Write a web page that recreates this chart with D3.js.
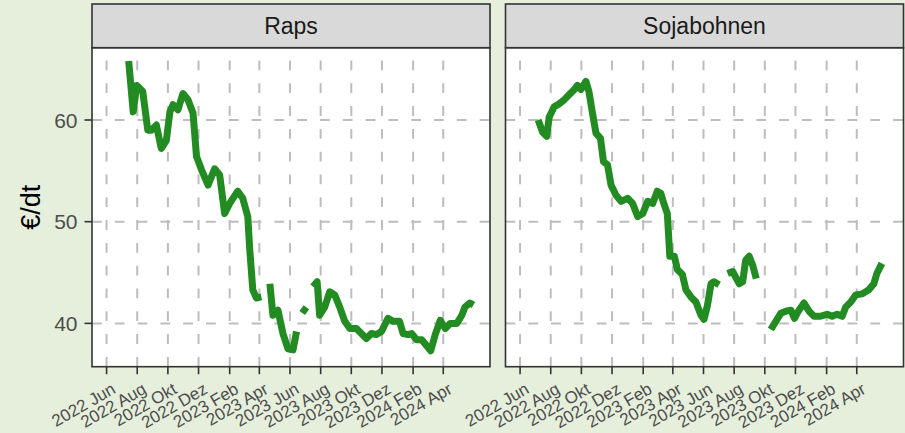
<!DOCTYPE html>
<html>
<head>
<meta charset="utf-8">
<script src="https://cdn.jsdelivr.net/npm/d3@7"></script>
<style>
  body { margin: 0; background: #e5efdc; }
  svg { display: block; }
</style>
</head>
<body>
<svg id="chart"></svg>
<script>
// data (null = gap in the series)
var facetNames = ["Raps", "Sojabohnen"];

var rapsDates = ["2022-07-15","2022-07-24","2022-07-31","2022-08-12","2022-08-22","2022-08-29","2022-09-08","2022-09-18","2022-09-28","2022-10-05","2022-10-11","2022-10-21","2022-10-31","2022-11-10","2022-11-20","2022-11-27","2022-12-07","2022-12-20","2023-01-02","2023-01-12","2023-01-22","2023-02-01","2023-02-17","2023-02-27","2023-03-09","2023-03-13","2023-03-19","2023-03-26","2023-04-05","2023-04-14","2023-04-22","2023-04-28","2023-05-08","2023-05-18","2023-05-28","2023-06-07","2023-06-14","2023-06-19","2023-06-24","2023-07-05","2023-07-11","2023-07-17","2023-07-25","2023-07-30","2023-08-09","2023-08-19","2023-08-29","2023-09-08","2023-09-18","2023-09-28","2023-10-11","2023-10-21","2023-10-31","2023-11-10","2023-11-20","2023-11-30","2023-12-13","2023-12-23","2024-01-05","2024-01-12","2024-01-22","2024-01-29","2024-02-08","2024-02-18","2024-02-28","2024-03-07","2024-03-16","2024-03-26","2024-04-05","2024-04-15","2024-04-28","2024-05-08","2024-05-14","2024-05-24","2024-05-31"];
var rapsValues = [65.8,60.8,63.4,62.8,59.0,59.0,59.5,57.2,58.0,60.8,61.5,61.0,62.6,62.0,60.7,56.4,55.1,53.6,55.2,54.6,50.8,51.8,53.0,52.3,50.5,47.2,43.3,42.5,42.6,null,43.9,40.8,41.3,39.0,37.5,37.4,39.2,null,41.5,41.1,null,43.6,44.1,40.8,41.6,43.1,42.8,41.6,40.2,39.5,39.5,39.0,38.5,39.0,38.9,39.2,40.5,40.2,40.2,39.0,38.9,39.0,38.4,38.4,37.8,37.3,38.9,40.3,39.5,40.0,40.0,40.8,41.6,42.0,41.8];

var sojaDates = ["2022-07-07","2022-07-16","2022-07-24","2022-07-29","2022-08-08","2022-08-18","2022-08-28","2022-09-07","2022-09-17","2022-09-23","2022-09-30","2022-10-10","2022-10-16","2022-10-23","2022-10-30","2022-11-08","2022-11-14","2022-11-22","2022-11-29","2022-12-09","2022-12-19","2023-01-01","2023-01-11","2023-01-21","2023-01-31","2023-02-10","2023-02-20","2023-03-01","2023-03-08","2023-03-14","2023-03-21","2023-03-26","2023-04-04","2023-04-10","2023-04-20","2023-04-27","2023-05-07","2023-05-17","2023-05-27","2023-06-02","2023-06-09","2023-06-16","2023-06-22","2023-07-02","2023-07-10","2023-07-19","2023-07-29","2023-08-11","2023-08-18","2023-08-24","2023-08-31","2023-09-07","2023-09-14","2023-09-28","2023-10-13","2023-10-23","2023-11-02","2023-11-12","2023-11-22","2023-11-29","2023-12-08","2023-12-18","2023-12-28","2024-01-07","2024-01-20","2024-02-02","2024-02-12","2024-02-22","2024-03-03","2024-03-10","2024-03-20","2024-03-30","2024-04-12","2024-04-25","2024-05-05","2024-05-11","2024-05-21"];
var sojaValues = [60.0,58.8,58.4,60.3,61.3,61.6,62.0,62.5,63.0,63.4,63.0,63.8,62.8,60.7,58.7,58.2,55.9,55.6,53.6,52.6,52.0,52.3,51.8,50.5,50.8,52.0,51.8,53.0,52.8,51.8,50.8,46.6,46.6,45.3,44.8,43.3,42.6,42.1,40.8,40.4,41.8,43.9,44.1,43.8,null,44.9,45.1,43.9,44.1,46.2,46.6,45.7,44.4,null,39.4,40.2,41.0,41.2,41.3,40.5,41.3,42.0,41.2,40.7,40.7,40.9,40.7,40.9,40.7,41.6,42.1,42.8,42.9,43.3,43.9,44.9,45.9];

var xTickDates = ["2022-06-01","2022-08-01","2022-10-01","2022-12-01","2023-02-01","2023-04-01","2023-06-01","2023-08-01","2023-10-01","2023-12-01","2024-02-01","2024-04-01"];
var xTickLabels = ["2022 Jun","2022 Aug","2022 Okt","2022 Dez","2023 Feb","2023 Apr","2023 Jun","2023 Aug","2023 Okt","2023 Dez","2024 Feb","2024 Apr"];
var yTicks = [40, 50, 60];
var yTitle = "€/dt";

var parseDate = d3.timeParse("%Y-%m-%d");

function zipSeries(dates, values) {
    return dates.map(function(d, i) {
        return { date: parseDate(d), v: values[i] };
    });
}

var series = [zipSeries(rapsDates, rapsValues), zipSeries(sojaDates, sojaValues)];

var width = 905, height = 433;
var panelW = 398;
var panelLefts = [92, 505.5];
var stripTop = 4, panelTop = 47.7, panelBottom = 366.7;
var font = "'Liberation Sans', Arial, Helvetica, sans-serif";

var svg = d3.select("#chart")
    .attr("width", width)
    .attr("height", height)
    .style("font-family", font);

svg.append("rect")
    .attr("width", width)
    .attr("height", height)
    .attr("fill", "#e5efdc");

var x = d3.scaleTime()
    .domain([parseDate("2022-05-03"), parseDate("2024-07-03")])
    .range([0, panelW]);

var y = d3.scaleLinear()
    .domain([35.74, 67.11])
    .range([panelBottom - panelTop, 0]);

var line = d3.line()
    .defined(function(d) { return d.v != null; })
    .x(function(d) { return x(d.date); })
    .y(function(d) { return y(d.v); });

var tickDates = xTickDates.map(parseDate);
var panelH = panelBottom - panelTop;

for (var p = 0; p < facetNames.length; p++) {
    var g = svg.append("g")
        .attr("transform", "translate(" + panelLefts[p] + "," + panelTop + ")");

    g.append("rect")
        .attr("width", panelW)
        .attr("height", panelH)
        .attr("fill", "#ffffff");

    // vertical dashed grid (drawn bottom to top like ggplot)
    g.selectAll(".vgrid")
        .data(tickDates)
        .enter()
        .append("line")
        .attr("x1", function(d) { return x(d); })
        .attr("x2", function(d) { return x(d); })
        .attr("y1", panelH)
        .attr("y2", 0)
        .attr("stroke", "#bdbdbd")
        .attr("stroke-width", 2)
        .attr("stroke-dasharray", "9.8,13");

    g.selectAll(".hgrid")
        .data(yTicks)
        .enter()
        .append("line")
        .attr("x1", 0)
        .attr("x2", panelW)
        .attr("y1", function(d) { return y(d); })
        .attr("y2", function(d) { return y(d); })
        .attr("stroke", "#bdbdbd")
        .attr("stroke-width", 2)
        .attr("stroke-dasharray", "9.8,13");

    g.append("path")
        .datum(series[p])
        .attr("d", line)
        .attr("fill", "none")
        .attr("stroke", "#228b22")
        .attr("stroke-width", 7)
        .attr("stroke-linejoin", "round")
        .attr("stroke-linecap", "butt");

    g.append("rect")
        .attr("width", panelW)
        .attr("height", panelH)
        .attr("fill", "none")
        .attr("stroke", "#333333")
        .attr("stroke-width", 1.6);

    // strip
    svg.append("rect")
        .attr("x", panelLefts[p])
        .attr("y", stripTop)
        .attr("width", panelW)
        .attr("height", panelTop - stripTop)
        .attr("fill", "#d9d9d9")
        .attr("stroke", "#333333")
        .attr("stroke-width", 1.6);

    svg.append("text")
        .attr("x", panelLefts[p] + panelW / 2)
        .attr("y", (stripTop + panelTop) / 2)
        .attr("dy", "0.36em")
        .attr("text-anchor", "middle")
        .attr("fill", "#1a1a1a")
        .style("font-size", "23px")
        .text(facetNames[p]);

    // x axis ticks + rotated labels
    var xa = svg.append("g")
        .attr("transform", "translate(" + panelLefts[p] + "," + panelBottom + ")");

    xa.selectAll("line")
        .data(tickDates)
        .enter()
        .append("line")
        .attr("x1", function(d) { return x(d); })
        .attr("x2", function(d) { return x(d); })
        .attr("y1", 0)
        .attr("y2", 7.5)
        .attr("stroke", "#333333")
        .attr("stroke-width", 1.6);

    xa.selectAll("text")
        .data(tickDates)
        .enter()
        .append("text")
        .attr("transform", function(d) {
            return "translate(" + (x(d) + 4) + ",15) rotate(-30)";
        })
        .attr("dy", "0.72em")
        .attr("text-anchor", "end")
        .attr("fill", "#4d4d4d")
        .style("font-size", "17px")
        .text(function(d, i) { return xTickLabels[i]; });
}

// y axis on the left panel only
var ya = svg.append("g")
    .attr("transform", "translate(" + panelLefts[0] + "," + panelTop + ")");

ya.selectAll("line")
    .data(yTicks)
    .enter()
    .append("line")
    .attr("x1", -7.5)
    .attr("x2", 0)
    .attr("y1", function(d) { return y(d); })
    .attr("y2", function(d) { return y(d); })
    .attr("stroke", "#333333")
    .attr("stroke-width", 1.6);

ya.selectAll("text")
    .data(yTicks)
    .enter()
    .append("text")
    .attr("x", -14.5)
    .attr("y", function(d) { return y(d); })
    .attr("dy", "0.36em")
    .attr("text-anchor", "end")
    .attr("fill", "#4d4d4d")
    .style("font-size", "21px")
    .text(function(d) { return d; });

svg.append("text")
    .attr("transform", "translate(40," + ((panelTop + panelBottom) / 2) + ") rotate(-90)")
    .attr("text-anchor", "middle")
    .attr("fill", "#000000")
    .style("font-size", "27px")
    .text(yTitle);
</script>
</body>
</html>
